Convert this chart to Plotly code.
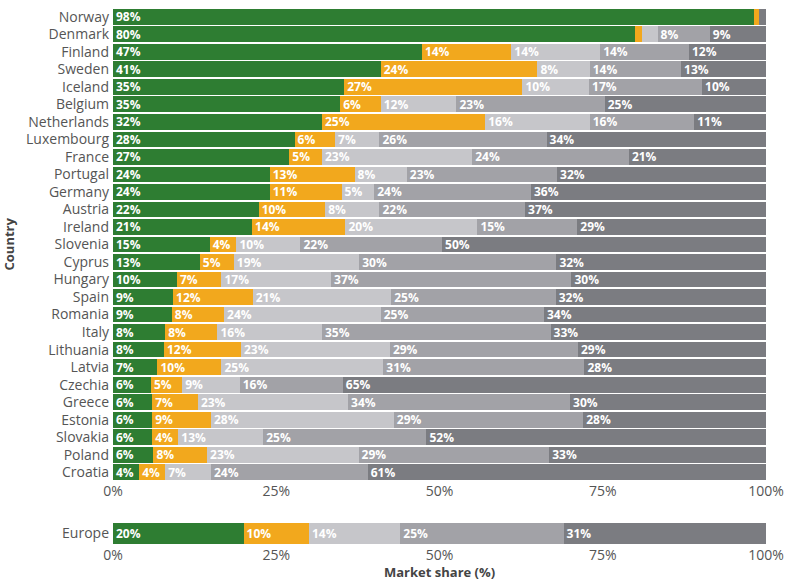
import plotly.graph_objects as go

countries = ["Norway", "Denmark", "Finland", "Sweden", "Iceland", "Belgium", "Netherlands",
             "Luxembourg", "France", "Portugal", "Germany", "Austria", "Ireland", "Slovenia",
             "Cyprus", "Hungary", "Spain", "Romania", "Italy", "Lithuania", "Latvia", "Czechia",
             "Greece", "Estonia", "Slovakia", "Poland", "Croatia"]

seg1 = [98.2, 79.9, 47.3, 41, 35.4, 34.8, 32, 27.8, 27, 24, 24, 22.3, 21.3, 14.8,
        13.3, 9.8, 9.2, 9, 8, 7.8, 6.8, 5.8, 6, 6, 6, 6.2, 4]
seg2 = [0.8, 1.1, 13.7, 24, 27.3, 6.2, 25, 6.2, 5, 13, 11, 10.2, 14.3, 4.1,
        5.2, 6.8, 12.2, 8, 8, 11.8, 9.8, 4.8, 7, 9, 4, 8.2, 4]
seg3 = [0, 2.4, 13.6, 8, 10.2, 11.6, 16, 6.8, 23, 8, 5, 8.3, 20.2, 9.8,
        19.2, 16.8, 21.2, 24, 16, 22.8, 24.8, 8.8, 23, 28, 13, 23.2, 7]
seg4 = [0, 8.0, 13.6, 14, 17.3, 22.7, 16, 25.6, 24, 23, 24, 22.3, 15.3, 21.7,
        30.2, 36.8, 25.2, 25, 35, 28.8, 30.8, 15.8, 34, 29, 25, 29.2, 24]
seg5 = [1.0, 8.6, 11.8, 13, 9.8, 24.7, 11, 33.6, 21, 32, 36, 36.9, 28.9, 49.6,
        32.1, 29.8, 32.2, 34, 33, 28.8, 27.8, 64.8, 30, 28, 52, 33.2, 61]

europe_label = ["Europe"]
europe_vals = [[20], [10], [14], [25], [31]]

series_names = ["Segment 1", "Segment 2", "Segment 3", "Segment 4", "Segment 5"]
colors = ["#2e7d32", "#f2a81d", "#c6c6ca", "#a2a2a7", "#7b7c81"]
tickvals = [0, 25, 50, 75, 100]
ticktext = ["0%", "25%", "50%", "75%", "100%"]

def labels(vals):
    return [f"<b>{round(v)}%</b>" if v >= 3 else "" for v in vals]

fig = go.Figure()
for name, vals, col in zip(series_names, [seg1, seg2, seg3, seg4, seg5], colors):
    fig.add_trace(go.Bar(
        y=countries, x=vals, orientation="h", name=name, marker=dict(color=col, line=dict(width=0)),
        text=labels(vals), textposition="inside", insidetextanchor="start",
        textfont=dict(color="white", size=12, family="Open Sans"),
        hoverinfo="x+y", xaxis="x", yaxis="y", showlegend=False,
    ))
for name, vals, col in zip(series_names, europe_vals, colors):
    fig.add_trace(go.Bar(
        y=europe_label, x=vals, orientation="h", name=name, marker=dict(color=col, line=dict(width=0)),
        text=labels(vals), textposition="inside", insidetextanchor="start",
        textfont=dict(color="white", size=12, family="Open Sans"),
        xaxis="x2", yaxis="y2", showlegend=False,
    ))

H_TOP, H_BOT = 8, 545
ph = H_BOT - H_TOP
main_bottom = (H_BOT - 481) / ph
eu_top = 23 / ph
pw = 792 - 113 - 26

axis_font = dict(family="Open Sans", size=14, color="#555555")

fig.update_layout(
    width=792, height=587,
    margin=dict(l=113, r=26, t=H_TOP, b=587 - H_BOT),
    barmode="stack", bargap=0.1,
    paper_bgcolor="white", plot_bgcolor="white",
    uniformtext=dict(minsize=12, mode="show"),
    font=dict(family="Open Sans", color="#555555"),
    xaxis=dict(domain=[0, 1], anchor="y", range=[0, 100], tickvals=tickvals, ticktext=ticktext,
               showgrid=False, zeroline=False, showline=False, ticks="", tickfont=axis_font),
    yaxis=dict(domain=[main_bottom, 1], anchor="x", categoryorder="array", categoryarray=countries,
               autorange="reversed", showgrid=False, zeroline=False, showline=False, ticks="",
               tickfont=axis_font, automargin=False, ticklabelstandoff=3),
    xaxis2=dict(domain=[0, 1], anchor="y2", range=[0, 100], tickvals=tickvals, ticktext=ticktext,
                showgrid=False, zeroline=False, showline=False, ticks="", tickfont=axis_font),
    yaxis2=dict(domain=[0, eu_top], anchor="x2", showgrid=False, zeroline=False, showline=False,
                ticks="", tickfont=axis_font, automargin=False, ticklabelstandoff=3),
    annotations=[
        dict(text="<b>Market share (%)</b>", x=0.5, y=-(572 - H_BOT) / ph, xref="paper", yref="paper",
             xanchor="center", yanchor="middle", showarrow=False,
             font=dict(family="Open Sans", size=13, color="#444444")),
        dict(text="<b>Country</b>", x=(9 - 113) / pw, y=(main_bottom + 1) / 2, xref="paper", yref="paper",
             xanchor="center", yanchor="middle", showarrow=False, textangle=-90,
             font=dict(family="Open Sans", size=13, color="#444444")),
    ],
)

fig.write_html("out.html")
